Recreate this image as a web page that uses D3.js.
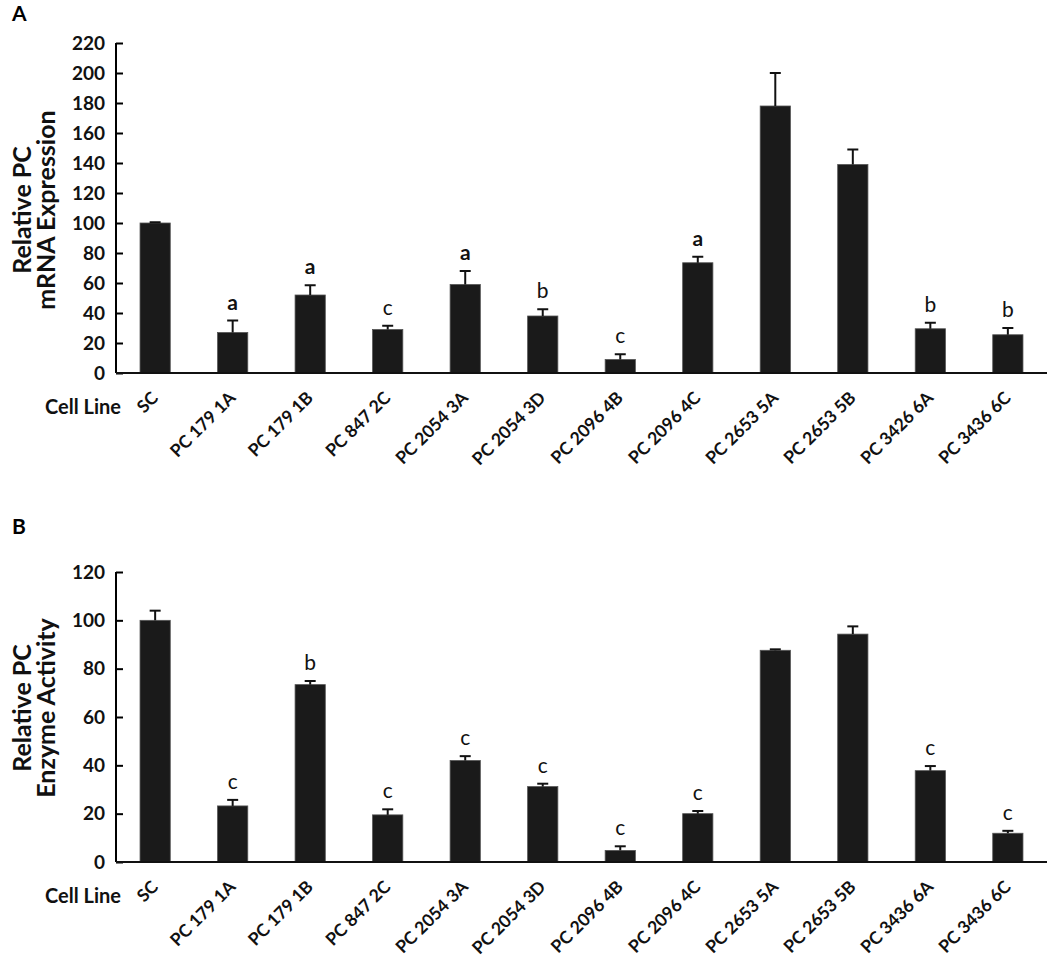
<!DOCTYPE html>
<html>
<head>
<meta charset="utf-8">
<script src="https://cdn.jsdelivr.net/npm/d3@7"></script>
<style>
  body { margin: 0; background: #fff; }
  text { font-family: Lato, "Open Sans", sans-serif; }
</style>
</head>
<body>
<div id="container"></div>
<script>
const width = 1050;
const height = 958;

const cellLines = ["SC", "PC 179 1A", "PC 179 1B", "PC 847 2C", "PC 2054 3A", "PC 2054 3D",
    "PC 2096 4B", "PC 2096 4C", "PC 2653 5A", "PC 2653 5B", "PC 3426 6A", "PC 3436 6C"];
const cellLinesB = ["SC", "PC 179 1A", "PC 179 1B", "PC 847 2C", "PC 2054 3A", "PC 2054 3D",
    "PC 2096 4B", "PC 2096 4C", "PC 2653 5A", "PC 2653 5B", "PC 3436 6A", "PC 3436 6C"];

const mrnaValues = [100, 27, 52, 29, 59, 38, 9, 73.5, 178, 139, 29.5, 25.5];
const mrnaErrors = [0.5, 8, 6.5, 2.5, 9, 4.5, 3.5, 4, 22, 10, 4, 4.5];
const mrnaLetters = ["", "a", "a", "c", "a", "b", "c", "a", "", "", "b", "b"];
const mrnaTicks = [0, 20, 40, 60, 80, 100, 120, 140, 160, 180, 200, 220];

const enzymeValues = [100, 23.2, 73.4, 19.5, 42, 31.2, 4.8, 20, 87.6, 94.3, 37.8, 11.9];
const enzymeErrors = [4, 2.5, 1.5, 2.3, 1.8, 1.2, 1.7, 1.1, 0.4, 3.2, 1.9, 1];
const enzymeLetters = ["", "c", "b", "c", "c", "c", "c", "c", "", "", "c", "c"];
const enzymeTicks = [0, 20, 40, 60, 80, 100, 120];

const svg = d3.select("#container")
    .append("svg")
    .attr("width", width)
    .attr("height", height)
    .attr("viewBox", [0, 0, width, height]);

function drawPanel(opt) {
    const g = svg.append("g");

    const x = d3.scaleBand()
        .domain(opt.labels)
        .range([116, 1047])
        .paddingInner(0.61)
        .paddingOuter(0.31);

    const y = d3.scaleLinear()
        .domain([0, opt.max])
        .range([opt.bottom, opt.top]);

    // panel letter
    g.append("text")
        .attr("x", 12)
        .attr("y", opt.letterY)
        .attr("font-size", 21)
        .attr("font-weight", "bold")
        .attr("font-family", "Liberation Sans, Arial, sans-serif")
        .text(opt.panel);

    // y axis, ticks pointing inwards
    const yAxis = g.append("g")
        .attr("transform", "translate(116,0)")
        .call(d3.axisRight(y).tickValues(opt.ticks).tickSize(7).tickFormat(d => d));
    yAxis.select(".domain").attr("stroke-width", 2).attr("d", `M0,${opt.top}V${opt.bottom}`);
    yAxis.selectAll(".tick line").attr("stroke-width", 2);
    yAxis.selectAll(".tick text")
        .attr("x", -11)
        .attr("text-anchor", "end")
        .attr("font-size", 19)
        .attr("font-weight", "bold")
        .attr("fill", "#111");

    // y title
    g.append("text")
        .attr("transform", `translate(31,${opt.titleY}) rotate(-90)`)
        .attr("text-anchor", "middle")
        .attr("font-size", 25)
        .attr("font-weight", "bold")
        .attr("fill", "#111")
        .text("Relative PC");
    g.append("text")
        .attr("transform", `translate(55,${opt.titleY}) rotate(-90)`)
        .attr("text-anchor", "middle")
        .attr("font-size", 25)
        .attr("font-weight", "bold")
        .attr("fill", "#111")
        .text(opt.title2);

    // bars
    g.append("g")
        .selectAll("rect")
        .data(opt.values)
        .join("rect")
        .attr("x", (d, i) => x(opt.labels[i]))
        .attr("y", d => y(d))
        .attr("width", x.bandwidth())
        .attr("height", d => y(0) - y(d))
        .attr("fill", "#1a1a1a")
        .attr("stroke", "#555")
        .attr("stroke-width", 0.8);

    // error bars (upper only)
    const err = g.append("g").attr("stroke", "#111").attr("stroke-width", 2);
    opt.values.forEach((v, i) => {
        const cx = x(opt.labels[i]) + x.bandwidth() / 2;
        err.append("line")
            .attr("x1", cx).attr("x2", cx)
            .attr("y1", y(v)).attr("y2", y(v + opt.errors[i]));
        err.append("line")
            .attr("x1", cx - 5.5).attr("x2", cx + 5.5)
            .attr("y1", y(v + opt.errors[i])).attr("y2", y(v + opt.errors[i]));
    });

    // significance letters
    g.append("g")
        .selectAll("text")
        .data(opt.letters)
        .join("text")
        .attr("x", (d, i) => x(opt.labels[i]) + x.bandwidth() / 2)
        .attr("y", (d, i) => y(opt.values[i] + opt.errors[i]) - 11)
        .attr("text-anchor", "middle")
        .attr("font-size", 21)
        .attr("font-weight", d => (opt.boldA && d === "a") ? "bold" : "normal")
        .attr("fill", "#111")
        .text(d => d);

    // x axis line
    g.append("line")
        .attr("x1", 116).attr("x2", 1047)
        .attr("y1", opt.bottom).attr("y2", opt.bottom)
        .attr("stroke", "#111")
        .attr("stroke-width", 2);

    // x labels
    g.append("text")
        .attr("x", 45)
        .attr("y", opt.bottom + 41)
        .attr("font-size", 20)
        .attr("font-weight", "bold")
        .attr("fill", "#111")
        .text("Cell Line");

    g.append("g")
        .selectAll("text")
        .data(opt.labels)
        .join("text")
        .attr("transform", d => `translate(${x(d) + x.bandwidth() / 2 + 4},${opt.bottom + 26}) rotate(-45)`)
        .attr("text-anchor", "end")
        .attr("font-size", 17.5)
        .attr("font-weight", "bold")
        .attr("fill", "#111")
        .text(d => d);
}

drawPanel({
    panel: "A", letterY: 21, labels: cellLines, values: mrnaValues, errors: mrnaErrors,
    letters: mrnaLetters, ticks: mrnaTicks, max: 220, top: 43, bottom: 373,
    title2: "mRNA Expression", titleY: 210, boldA: true
});

drawPanel({
    panel: "B", letterY: 534, labels: cellLinesB, values: enzymeValues, errors: enzymeErrors,
    letters: enzymeLetters, ticks: enzymeTicks, max: 120, top: 572, bottom: 862,
    title2: "Enzyme Activity", titleY: 708, boldA: false
});
</script>
</body>
</html>
